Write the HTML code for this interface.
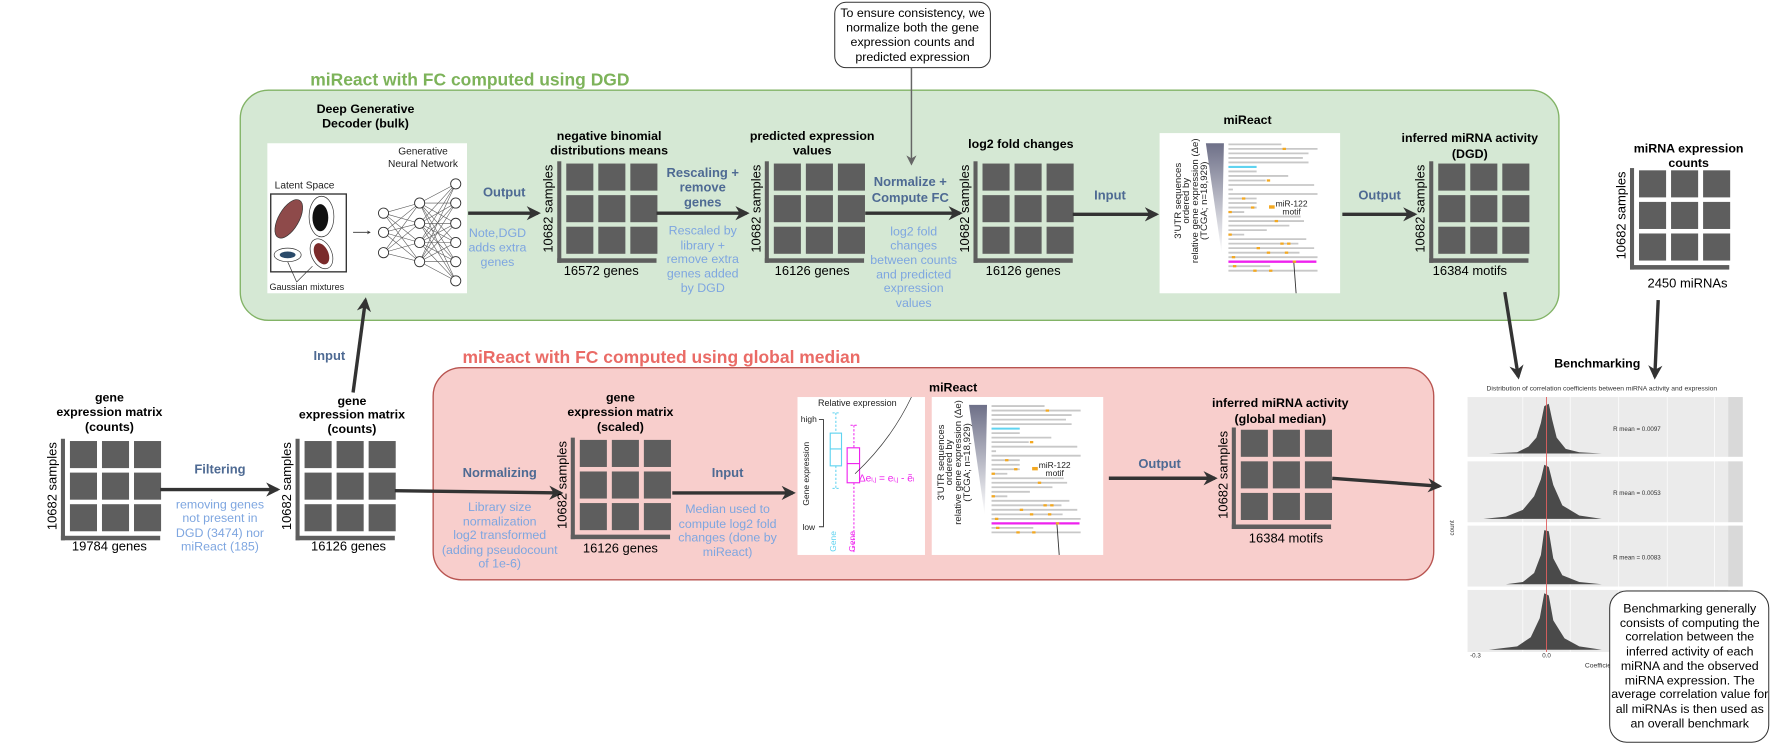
<!DOCTYPE html>
<html><head><meta charset="utf-8"><style>
html,body{margin:0;padding:0;background:#fff;width:1771px;height:744px;overflow:hidden}
svg{display:block}
text{font-family:"Liberation Sans",Arial,sans-serif}
.t{font-size:11px;font-weight:bold;fill:#000;text-anchor:middle}
.lb{font-size:11.5px;font-weight:bold;fill:#4e6a93;text-anchor:middle}
.ds{font-size:11px;fill:#7ea6e0;text-anchor:middle}
.n{font-size:11px;fill:#000;text-anchor:middle}
.s{font-size:11.5px;fill:#000;text-anchor:middle}
.ar{stroke:#333;stroke-width:3;fill:none;marker-end:url(#ah)}
.sq{fill:#5e5e5e}
.gl{stroke:#c8c8c8;stroke-width:1.6}
</style></head><body>
<svg width="1771" height="744" viewBox="0 0 1570 659.6" preserveAspectRatio="none" xmlns="http://www.w3.org/2000/svg">
<defs>
<marker id="ah" viewBox="0 0 10 10" refX="8" refY="5" markerWidth="4.2" markerHeight="4.2" orient="auto" markerUnits="strokeWidth">
<path d="M0,0 L10,5 L0,10 L3,5 Z" fill="#333"/></marker>
<marker id="ah2" viewBox="0 0 10 10" refX="8" refY="5" markerWidth="7" markerHeight="7" orient="auto" markerUnits="strokeWidth">
<path d="M0,0 L10,5 L0,10 L3,5 Z" fill="#666"/></marker>
<linearGradient id="gr" x1="0" y1="0" x2="0" y2="1"><stop offset="0" stop-color="#6e7088"/><stop offset="1" stop-color="#ffffff"/></linearGradient>
<g id="mat">
<rect x="0" y="-2" width="3.6" height="90" fill="#5e5e5e"/>
<rect x="0" y="84" width="88" height="4" fill="#5e5e5e"/>
<rect class="sq" x="8" y="0" width="24" height="24"/><rect class="sq" x="36.4" y="0" width="24" height="24"/><rect class="sq" x="64.8" y="0" width="24" height="24"/>
<rect class="sq" x="8" y="28" width="24" height="24"/><rect class="sq" x="36.4" y="28" width="24" height="24"/><rect class="sq" x="64.8" y="28" width="24" height="24"/>
<rect class="sq" x="8" y="56" width="24" height="24"/><rect class="sq" x="36.4" y="56" width="24" height="24"/><rect class="sq" x="64.8" y="56" width="24" height="24"/>
<text transform="translate(-4,40) rotate(-90)" class="s">10682 samples</text>
</g>
<g id="mi">
<rect x="0" y="0" width="160" height="142" fill="#fff"/>
<polygon points="41,9 57,9 55,107" fill="url(#gr)"/>
<g font-size="8.5" text-anchor="middle" fill="#222">
<text transform="translate(19,60) rotate(-90)">3'UTR sequences</text>
<text transform="translate(26,60) rotate(-90)">ordered by</text>
<text transform="translate(34,60) rotate(-90)">relative gene expression (Δe)</text>
<text transform="translate(42,60) rotate(-90)">(TCGA; n=18,929)</text>
</g>
<path class="gl" d="M61,10H108M61,14H140M61,18H132M61,22H127M61,26H132M61,34H86M61,38H114M61,42H94M61,46H137M61,50H65M61,54H140M61,58H86M61,62H86M61,66H86M61,70H75M61,74H125M61,78H128M61,82H115M61,86H95M61,90H75M61,94H130M61,98H123M61,102H137M61,106H124M61,110H140M61,118H98M61,122H140"/>
<path d="M61,30H86" stroke="#5fd3f0" stroke-width="1.8"/>
<path d="M61,114H139" stroke="#ee22ee" stroke-width="2"/>
<g fill="#f3a820"><rect x="109" y="13" width="3" height="2"/><rect x="95" y="41" width="3" height="2"/><rect x="73" y="57" width="3" height="2"/><rect x="81" y="65" width="3" height="2"/><rect x="61" y="69" width="3" height="2"/><rect x="102" y="77" width="3" height="2"/><rect x="61" y="89" width="3" height="2"/><rect x="107" y="97" width="3" height="2"/><rect x="113" y="97" width="3" height="2"/><rect x="86" y="101" width="3" height="2"/><rect x="95" y="105" width="3" height="2"/><rect x="111" y="105" width="3" height="2"/><rect x="64" y="109" width="3" height="2"/><rect x="118" y="113" width="3" height="2"/><rect x="65" y="117" width="3" height="2"/><rect x="83" y="121" width="3" height="2"/><rect x="97" y="121" width="3" height="2"/><rect x="97" y="64" width="5" height="3"/></g>
<text x="117" y="65" font-size="7.5" text-anchor="middle" fill="#222">miR-122</text>
<text x="117" y="72" font-size="7.5" text-anchor="middle" fill="#222">motif</text>
<path d="M119,115 L121,142" stroke="#333" stroke-width="0.8"/>
</g>
</defs>

<!-- green box -->
<rect x="213" y="80" width="1169" height="204" rx="25" fill="#d5e8d4" stroke="#82b366" stroke-width="1.2"/>
<text x="275" y="76" font-size="15.5" font-weight="bold" fill="#7db35a">miReact with FC computed using DGD</text>
<!-- red box -->
<rect x="384" y="326" width="887" height="188" rx="25" fill="#f8cecc" stroke="#b85450" stroke-width="1.2"/>
<text x="410" y="322" font-size="15.5" font-weight="bold" fill="#ea6b66">miReact with FC computed using global median</text>

<!-- top note -->
<rect x="740" y="2" width="138" height="58" rx="10" fill="#fff" stroke="#333" stroke-width="0.9"/>
<text class="n" x="809" y="15">To ensure consistency, we</text>
<text class="n" x="809" y="28">normalize both the gene</text>
<text class="n" x="809" y="41">expression counts and</text>
<text class="n" x="809" y="54">predicted expression</text>
<path d="M808,60 V145" stroke="#666" stroke-width="1.3" fill="none" marker-end="url(#ah2)"/>

<!-- DGD image -->
<text class="t" x="324" y="100">Deep Generative</text>
<text class="t" x="324" y="113">Decoder (bulk)</text>
<rect x="237" y="127" width="177" height="133" fill="#fff"/>
<text x="375" y="137" font-size="9" text-anchor="middle" fill="#222">Generative</text>
<text x="375" y="148" font-size="9" text-anchor="middle" fill="#222">Neural Network</text>
<text x="270" y="167" font-size="9" text-anchor="middle" fill="#222">Latent Space</text>
<rect x="240" y="172" width="67" height="69" fill="none" stroke="#333" stroke-width="1.2"/>
<ellipse cx="256" cy="194" rx="9" ry="19" transform="rotate(30 256 194)" fill="#7a2a2a" stroke="#333" stroke-width="0.6" fill-opacity="0.85"/>
<ellipse cx="285" cy="192" rx="11" ry="18" fill="#fff" stroke="#333" stroke-width="0.6"/>
<ellipse cx="284" cy="193" rx="7" ry="12" fill="#111"/>
<ellipse cx="255" cy="226" rx="12" ry="6" fill="#fff" stroke="#333" stroke-width="0.6"/>
<ellipse cx="255" cy="226" rx="7" ry="3" fill="#2a4a6a"/>
<ellipse cx="285" cy="225" rx="9" ry="14" transform="rotate(-25 285 225)" fill="#fff" stroke="#333" stroke-width="0.6"/>
<ellipse cx="285" cy="225" rx="6" ry="10" transform="rotate(-25 285 225)" fill="#7a2a2a"/>
<path d="M263,250 L255,232 M263,250 L277,236" stroke="#333" stroke-width="0.6"/>
<text x="272" y="257" font-size="8" text-anchor="middle" fill="#222">Gaussian mixtures</text>
<path d="M313,206 H328" stroke="#333" stroke-width="0.8" marker-end="url(#ah)"/>
<path stroke="#555" stroke-width="0.5" fill="none" d="M340,189L372,180M340,189L372,198M340,189L372,215M340,189L372,232M340,206L372,180M340,206L372,198M340,206L372,215M340,206L372,232M340,224L372,180M340,224L372,198M340,224L372,215M340,224L372,232M372,180L404,163M372,180L404,180M372,180L404,198M372,180L404,215M372,180L404,232M372,180L404,249M372,198L404,163M372,198L404,180M372,198L404,198M372,198L404,215M372,198L404,232M372,198L404,249M372,215L404,163M372,215L404,180M372,215L404,198M372,215L404,215M372,215L404,232M372,215L404,249M372,232L404,163M372,232L404,180M372,232L404,198M372,232L404,215M372,232L404,232M372,232L404,249"/>
<g fill="#fff" stroke="#333" stroke-width="0.8">
<circle cx="340" cy="189" r="4.5"/><circle cx="340" cy="206" r="4.5"/><circle cx="340" cy="224" r="4.5"/>
<circle cx="372" cy="180" r="4.5"/><circle cx="372" cy="198" r="4.5"/><circle cx="372" cy="215" r="4.5"/><circle cx="372" cy="232" r="4.5"/>
<circle cx="404" cy="163" r="4.5"/><circle cx="404" cy="180" r="4.5"/><circle cx="404" cy="198" r="4.5"/><circle cx="404" cy="215" r="4.5"/><circle cx="404" cy="232" r="4.5"/><circle cx="404" cy="249" r="4.5"/>
</g>

<!-- top row arrows -->
<path class="ar" d="M415,189 H477"/>
<text class="lb" x="447" y="174">Output</text>
<text class="ds" x="441" y="210">Note,DGD</text>
<text class="ds" x="441" y="223">adds extra</text>
<text class="ds" x="441" y="236">genes</text>

<use href="#mat" x="494" y="145"/>
<text class="t" x="540" y="124">negative binomial</text>
<text class="t" x="540" y="137">distributions means</text>
<text class="s" x="533" y="244">16572 genes</text>

<path class="ar" d="M582,189 H662"/>
<text class="lb" x="623" y="157">Rescaling +</text>
<text class="lb" x="623" y="170">remove</text>
<text class="lb" x="623" y="183">genes</text>
<text class="ds" x="623" y="208">Rescaled by</text>
<text class="ds" x="623" y="221">library +</text>
<text class="ds" x="623" y="233">remove extra</text>
<text class="ds" x="623" y="246">genes added</text>
<text class="ds" x="623" y="259">by DGD</text>

<use href="#mat" x="678" y="145"/>
<text class="t" x="720" y="124">predicted expression</text>
<text class="t" x="720" y="137">values</text>
<text class="s" x="720" y="244">16126 genes</text>

<path class="ar" d="M767,189 H851"/>
<text class="lb" x="807" y="165">Normalize +</text>
<text class="lb" x="807" y="179">Compute FC</text>
<text class="ds" x="810" y="209">log2 fold</text>
<text class="ds" x="810" y="221">changes</text>
<text class="ds" x="810" y="234">between counts</text>
<text class="ds" x="810" y="247">and predicted</text>
<text class="ds" x="810" y="259">expression</text>
<text class="ds" x="810" y="272">values</text>

<use href="#mat" x="863" y="145"/>
<text class="t" x="905" y="131">log2 fold changes</text>
<text class="s" x="907" y="244">16126 genes</text>

<path class="ar" d="M951,190 H1025"/>
<text class="lb" x="984" y="177">Input</text>

<text class="t" x="1106" y="110">miReact</text>
<use href="#mi" x="1028" y="118"/>

<path class="ar" d="M1190,190 H1254"/>
<text class="lb" x="1223" y="177">Output</text>

<use href="#mat" x="1267" y="145"/>
<text class="t" x="1303" y="126">inferred miRNA activity</text>
<text class="t" x="1303" y="140">(DGD)</text>
<text class="s" x="1303" y="244">16384 motifs</text>

<!-- miRNA counts -->
<use href="#mat" x="1445" y="151"/>
<text class="t" x="1497" y="135">miRNA expression</text>
<text class="t" x="1497" y="148">counts</text>
<text class="s" x="1496" y="255">2450 miRNAs</text>

<path class="ar" d="M1334,259 L1346,334"/>
<path class="ar" d="M1470,266 L1467,334"/>
<text class="t" x="1416" y="326">Benchmarking</text>

<!-- left side -->
<use href="#mat" x="54" y="391"/>
<text class="t" x="97" y="356">gene</text>
<text class="t" x="97" y="369">expression matrix</text>
<text class="t" x="97" y="382">(counts)</text>
<text class="s" x="97" y="488">19784 genes</text>

<path class="ar" d="M142,434 H246"/>
<text class="lb" x="195" y="420">Filtering</text>
<text class="ds" x="195" y="451">removing genes</text>
<text class="ds" x="195" y="463">not present in</text>
<text class="ds" x="195" y="476">DGD (3474) nor</text>
<text class="ds" x="195" y="488">miReact (185)</text>

<use href="#mat" x="262" y="391"/>
<text class="t" x="312" y="359">gene</text>
<text class="t" x="312" y="371">expression matrix</text>
<text class="t" x="312" y="384">(counts)</text>
<text class="s" x="309" y="488">16126 genes</text>

<path class="ar" d="M313,348 L324,266"/>
<text class="lb" x="292" y="319">Input</text>

<path class="ar" d="M350,435 L497,437"/>
<text class="lb" x="443" y="423">Normalizing</text>
<text class="ds" x="443" y="453">Library size</text>
<text class="ds" x="443" y="466">normalization</text>
<text class="ds" x="443" y="478">log2 transformed</text>
<text class="ds" x="443" y="491">(adding pseudocount</text>
<text class="ds" x="443" y="503">of 1e-6)</text>

<use href="#mat" x="506" y="390"/>
<text class="t" x="550" y="356">gene</text>
<text class="t" x="550" y="369">expression matrix</text>
<text class="t" x="550" y="382">(scaled)</text>
<text class="s" x="550" y="490">16126 genes</text>

<path class="ar" d="M596,437 H703"/>
<text class="lb" x="645" y="423">Input</text>
<text class="ds" x="645" y="455">Median used to</text>
<text class="ds" x="645" y="468">compute log2 fold</text>
<text class="ds" x="645" y="480">changes (done by</text>
<text class="ds" x="645" y="493">miReact)</text>

<!-- red miReact -->
<text class="t" x="845" y="347">miReact</text>
<rect x="707" y="352" width="113" height="140" fill="#fff"/>
<text x="760" y="360" font-size="8" text-anchor="middle" fill="#222">Relative expression</text>
<text x="717" y="374" font-size="7.5" text-anchor="middle" fill="#222">high</text>
<text x="717" y="470" font-size="7.5" text-anchor="middle" fill="#222">low</text>
<path d="M726,372 H730 V467 H726" stroke="#333" fill="none" stroke-width="0.8"/>
<text transform="translate(717,420) rotate(-90)" font-size="7.5" text-anchor="middle" fill="#222">Gene   expression</text>
<path d="M741,366 V384 M741,413 V433 M738,366H744M738,433H744" stroke="#5fd3f0" stroke-width="0.9" stroke-dasharray="2,1.5" fill="none"/>
<rect x="736" y="384" width="10" height="29" fill="none" stroke="#5fd3f0"/>
<path d="M736,398H746" stroke="#5fd3f0"/>
<path d="M757,377 V397 M757,428 V490 M754,377H760" stroke="#ee22ee" stroke-width="0.9" stroke-dasharray="2,1.5" fill="none"/>
<rect x="751" y="397" width="11" height="31" fill="none" stroke="#ee22ee"/>
<path d="M751,411H762" stroke="#ee22ee"/>
<text x="786" y="427" font-size="9" text-anchor="middle" fill="#ee22ee">Δe<tspan font-size="6">i,j</tspan> = e<tspan font-size="6">i,j</tspan> - ẽ<tspan font-size="6">i</tspan></text>
<text transform="translate(741,480) rotate(-90)" font-size="7.5" text-anchor="middle" fill="#5fd3f0">Gene</text>
<text transform="translate(758,480) rotate(-90)" font-size="7.5" text-anchor="middle" fill="#ee22ee">Gene</text>
<path d="M758,420 Q790,390 808,352" stroke="#333" stroke-width="0.6" fill="none"/>
<svg x="826" y="352" width="154" height="140" viewBox="8 0 154 140"><use href="#mi" x="0" y="-2"/></svg>

<path class="ar" d="M983,424 H1077"/>
<text class="lb" x="1028" y="415">Output</text>

<use href="#mat" x="1092" y="381"/>
<text class="t" x="1135" y="361">inferred miRNA activity</text>
<text class="t" x="1135" y="375">(global median)</text>
<text class="s" x="1140" y="481">16384 motifs</text>

<path class="ar" d="M1181,424 L1276,431"/>

<!-- histogram -->
<rect x="1283" y="338" width="272" height="262" fill="#fff"/>
<text x="1420" y="346" font-size="6" text-anchor="middle" fill="#333">Distribution of correlation coefficients between miRNA activity and expression</text>
<g>
<rect x="1301" y="352" width="231" height="53" fill="#ebebeb"/><rect x="1532" y="352" width="13" height="53" fill="#d9d9d9"/>
<rect x="1301" y="409" width="231" height="54" fill="#ebebeb"/><rect x="1532" y="409" width="13" height="54" fill="#d9d9d9"/>
<rect x="1301" y="466" width="231" height="54" fill="#ebebeb"/><rect x="1532" y="466" width="13" height="54" fill="#d9d9d9"/>
<rect x="1301" y="523" width="231" height="55" fill="#ebebeb"/>
<path d="M1350,352V578M1392,352V578M1435,352V578M1478,352V578M1520,352V578" stroke="#fff" stroke-width="0.6"/>
<g fill="#4a4a4a">
<path d="M1320,402 L1345,401 L1355,396 L1362,388 L1366,375 L1369,360 L1373,358 L1376,372 L1380,388 L1388,398 L1400,401 L1420,402 Z"/>
<path d="M1315,460 L1335,458 L1350,452 L1360,440 L1366,425 L1369,412 L1373,414 L1377,430 L1385,448 L1400,457 L1420,460 Z"/>
<path d="M1335,518 L1350,516 L1360,508 L1366,492 L1369,470 L1373,471 L1377,495 L1385,510 L1400,516 L1420,518 Z"/>
<path d="M1320,576 L1345,573 L1357,565 L1365,548 L1369,526 L1373,528 L1377,550 L1387,566 L1400,573 L1420,576 Z"/>
</g>
<path d="M1371,352V578" stroke="#e06060" stroke-width="0.8"/>
<g font-size="5.5" fill="#333">
<text x="1430" y="382">R mean =  0.0097</text>
<text x="1430" y="439">R mean =  0.0053</text>
<text x="1430" y="496">R mean =  0.0083</text>
<text x="1308" y="583" text-anchor="middle">-0.3</text>
<text x="1371" y="583" text-anchor="middle">0.0</text>
<text x="1405" y="592" font-size="6">Coefficient v</text>
<text transform="translate(1289,468) rotate(-90)" text-anchor="middle">count</text>
</g>
</g>

<!-- bottom note -->
<rect x="1427" y="524" width="141" height="134" rx="15" fill="#fff" stroke="#333" stroke-width="0.9"/>
<g class="n" font-size="11">
<text class="n" x="1498" y="543">Benchmarking generally</text>
<text class="n" x="1498" y="556">consists of computing the</text>
<text class="n" x="1498" y="568">correlation between the</text>
<text class="n" x="1498" y="581">inferred activity of each</text>
<text class="n" x="1498" y="594">miRNA and the observed</text>
<text class="n" x="1498" y="607">miRNA expression. The</text>
<text class="n" x="1498" y="619">average correlation value for</text>
<text class="n" x="1498" y="632">all miRNAs is then used as</text>
<text class="n" x="1498" y="645">an overall benchmark</text>
</g>
</svg>
</body></html>
